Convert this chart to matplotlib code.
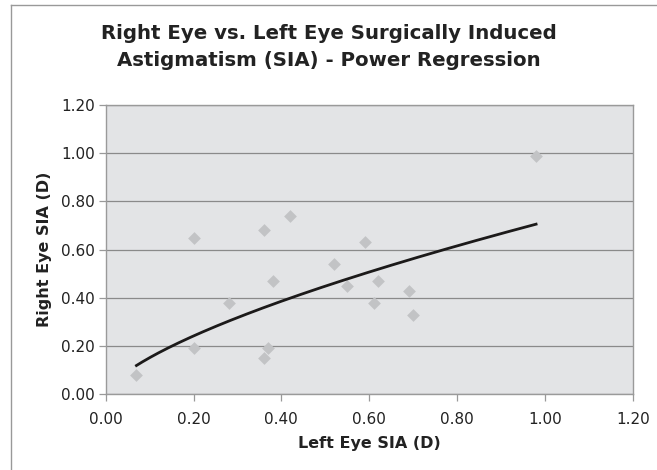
import numpy as np
import matplotlib
matplotlib.use("Agg")
import matplotlib.pyplot as plt
from matplotlib.lines import Line2D

# Daten: SIA linkes / rechtes Auge (D)
left_sia = [0.07, 0.20, 0.20, 0.28, 0.36, 0.36, 0.37, 0.38, 0.42,
            0.52, 0.55, 0.59, 0.61, 0.62, 0.69, 0.70, 0.98]
right_sia = [0.08, 0.65, 0.19, 0.38, 0.68, 0.15, 0.19, 0.47, 0.74,
             0.54, 0.45, 0.63, 0.38, 0.47, 0.43, 0.33, 0.99]
x_ticks = [0.00, 0.20, 0.40, 0.60, 0.80, 1.00, 1.20]
y_ticks = [0.00, 0.20, 0.40, 0.60, 0.80, 1.00, 1.20]

x = np.array(left_sia)
y = np.array(right_sia)

# Power-Regression y = a * x^b
b, log_a = np.polyfit(np.log(x), np.log(y), 1)
a = np.exp(log_a)
x_fit = np.linspace(x.min(), x.max(), 200)
y_fit = a * x_fit ** b

plt.rcParams['font.family'] = ['DejaVu Sans']

fig = plt.figure(figsize=(6.57, 4.70), dpi=100)
ax = fig.add_axes([105.7 / 657, 1 - 394.3 / 470, 527 / 657, 289.3 / 470])
ax.set_facecolor('#e3e4e6')

ax.scatter(x, y, marker='D', s=42, color='#c2c3c5', linewidths=0, zorder=3)
ax.plot(x_fit, y_fit, color='#1c1a1a', linewidth=2.0, zorder=4)

ax.set_xlim(0, 1.2)
ax.set_ylim(0, 1.2)
ax.set_xticks(x_ticks)
ax.set_yticks(y_ticks)
ax.set_xticklabels([f"{v:.2f}" for v in x_ticks])
ax.set_yticklabels([f"{v:.2f}" for v in y_ticks])
ax.tick_params(labelsize=11, colors='#222222', length=5, width=0.9)
ax.tick_params(axis='x', color='#999999', pad=8)
ax.tick_params(axis='y', color='#999999', pad=3)
ax.grid(True, axis='y', color='#8a8a8a', linewidth=0.9)
ax.set_axisbelow(True)
for side in ['left', 'bottom', 'top', 'right']:
    ax.spines[side].set_color('#9a9a9a')
    ax.spines[side].set_linewidth(1.0)

ax.set_xlabel("Left Eye SIA (D)", fontsize=11.5, fontweight='bold', color='#222222', labelpad=6)
ax.set_ylabel("Right Eye SIA (D)", fontsize=11.5, fontweight='bold', color='#222222', labelpad=6)

fig.text(0.5, 1 - 47 / 470, "Right Eye vs. Left Eye Surgically Induced\nAstigmatism (SIA) - Power Regression",
         ha='center', va='center', fontsize=14.2, fontweight='bold', color='#222222', linespacing=1.47)

# Rahmen (nur links und oben sichtbar)
fig.add_artist(Line2D([11 / 657, 11 / 657], [0, 1 - 5 / 470], transform=fig.transFigure,
                      color='#999999', linewidth=1.0))
fig.add_artist(Line2D([11 / 657, 1], [1 - 5 / 470, 1 - 5 / 470], transform=fig.transFigure,
                      color='#999999', linewidth=1.0))

fig.savefig("out.png", dpi=100)
